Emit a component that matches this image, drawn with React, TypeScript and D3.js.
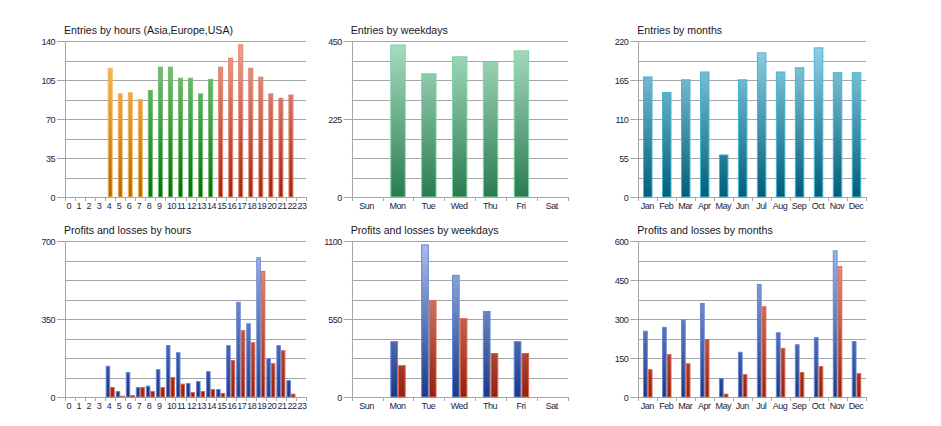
import React from "react";
import * as d3 from "d3";

// ---------- data ----------
const hourLabels = ["0", "1", "2", "3", "4", "5", "6", "7", "8", "9", "10", "11", "12", "13", "14", "15", "16", "17", "18", "19", "20", "21", "22", "23"];
const entriesByHour = [0, 0, 0, 0, 116, 93, 94, 88, 96, 117, 117, 107, 107, 93, 106, 117, 125, 137, 116, 108, 93, 89, 92, 0];
const hourSession = ["", "", "", "", "asia", "asia", "asia", "asia", "europe", "europe", "europe", "europe", "europe", "europe", "europe", "usa", "usa", "usa", "usa", "usa", "usa", "usa", "usa", ""];

const weekdayLabels = ["Sun", "Mon", "Tue", "Wed", "Thu", "Fri", "Sat"];
const entriesByWeekday = [0, 440, 357, 406, 389, 423, 0];

const monthLabels = ["Jan", "Feb", "Mar", "Apr", "May", "Jun", "Jul", "Aug", "Sep", "Oct", "Nov", "Dec"];
const entriesByMonth = [170, 148, 166, 177, 60, 166, 204, 177, 183, 211, 176, 176];

const profitsByHour = [0, 0, 0, 0, 140, 27, 112, 45, 51, 125, 233, 201, 63, 72, 116, 36, 233, 427, 331, 627, 175, 233, 76, 0];
const lossesByHour = [0, 0, 0, 0, 45, 6, 9, 45, 27, 45, 90, 60, 22, 27, 36, 18, 166, 300, 246, 566, 152, 210, 15, 0];

const profitsByWeekday = [0, 394, 1076, 861, 607, 394, 0];
const lossesByWeekday = [0, 225, 682, 556, 310, 310, 0];

const profitsByMonth = [255, 270, 298, 362, 73, 174, 435, 249, 203, 230, 564, 215];
const lossesByMonth = [107, 165, 130, 223, 13, 88, 349, 189, 96, 119, 503, 92];

// ---------- styles ----------
const palettes: Record<string, { top: string; bottom: string; stroke: string }> = {
  asia: { top: "#ffc86e", bottom: "#ad6800", stroke: "#f7b75a" },
  europe: { top: "#8ccf8c", bottom: "#0c690e", stroke: "#6cbf6c" },
  usa: { top: "#eca898", bottom: "#9c240e", stroke: "#e8806a" },
  weekday: { top: "#aadec4", bottom: "#2a7b50", stroke: "#7dd4a3" },
  month: { top: "#96d5e7", bottom: "#005e7a", stroke: "#45b5d5" },
  profit: { top: "#abc0ec", bottom: "#1b3886", stroke: "#6688d8" },
  loss: { top: "#eea494", bottom: "#94200e", stroke: "#e0654a" },
};

const TICK_FONT = "'Liberation Sans', 'DejaVu Sans', sans-serif";
const TITLE_FONT = "'Liberation Sans', 'DejaVu Sans', sans-serif";
const GRID = "#a6a6a6";
const TEXT = "#1c1c40";

type Series = { values: number[]; palette: (i: number) => string };

type PanelProps = {
  id: string;
  title: string;
  left: number;
  right: number;
  top: number;
  bottom: number;
  categories: string[];
  series: Series[];
  yMax: number;
  labelEvery: number;
  innerPadding: number;
  labelAlign: "start" | "middle";
};

function Panel(p: PanelProps) {
  const { id, title, left, right, top, bottom, categories, series, yMax, labelEvery, innerPadding, labelAlign } = p;
  const y = d3.scaleLinear().domain([0, yMax]).range([bottom, top]);
  const x = d3
    .scaleBand<string>()
    .domain(categories)
    .range([left, right])
    .paddingInner(innerPadding)
    .paddingOuter(innerPadding / 2);
  const step = x.step();
  const sub = d3
    .scaleBand<number>()
    .domain(d3.range(series.length))
    .range([0, x.bandwidth()]);
  const gridValues = d3.range(0, 9).map((i) => (yMax * i) / 8);
  const usedPalettes = Array.from(
    new Set(series.flatMap((s) => categories.map((_, i) => s.palette(i)).filter((k) => k)))
  );

  return (
    <g>
      <defs>
        {usedPalettes.map((k) => (
          <linearGradient key={k} id={`${id}-${k}`} gradientUnits="userSpaceOnUse" x1={0} x2={0} y1={top} y2={bottom}>
            <stop offset="0%" stopColor={palettes[k].top} />
            <stop offset="100%" stopColor={palettes[k].bottom} />
          </linearGradient>
        ))}
      </defs>
      <text x={left - 1} y={top - 7} fontFamily={TITLE_FONT} fontSize={10.6} fill="#161626">
        {title}
      </text>
      {gridValues.map((v, i) => {
        const yy = Math.round(y(v)) + 0.5;
        const labeled = i % labelEvery === 0;
        return (
          <g key={i}>
            <line x1={labeled ? left - 8 : left} x2={right} y1={yy} y2={yy} stroke={GRID} strokeWidth={1} />
            {labeled && (
              <text
                x={left - 10}
                y={yy}
                textAnchor="end"
                dominantBaseline="central"
                fontFamily={TICK_FONT}
                fontSize={9}
                letterSpacing={-0.5}
                fill={TEXT}
              >
                {d3.format("d")(v)}
              </text>
            )}
          </g>
        );
      })}
      <line x1={Math.round(left) + 0.5} x2={Math.round(left) + 0.5} y1={top} y2={bottom + 4} stroke={GRID} />
      {d3.range(0, categories.length + 1).map((i) => {
        const xx = Math.round(left + i * step) + 0.5;
        return <line key={i} x1={xx} x2={xx} y1={bottom} y2={bottom + 4} stroke={GRID} />;
      })}
      {categories.map((c, i) => {
        const bandStart = left + i * step;
        return (
          <text
            key={c}
            x={labelAlign === "start" ? bandStart + 1.5 : bandStart + step / 2 - 0.5}
            y={bottom + 12}
            textAnchor={labelAlign}
            fontFamily={TICK_FONT}
            fontSize={9}
            letterSpacing={-0.5}
            fill={TEXT}
          >
            {c}
          </text>
        );
      })}
      {series.map((s, si) =>
        categories.map((c, i) => {
          const v = s.values[i];
          const pal = s.palette(i);
          if (!v || !pal) return null;
          const bx = (x(c) as number) + (sub(si) as number);
          const bw = sub.bandwidth();
          const by = y(v);
          return (
            <rect
              key={`${si}-${i}`}
              x={bx + 0.5}
              y={by + 0.5}
              width={Math.max(bw - 1, 0.5)}
              height={Math.max(bottom - by - 0.5, 0)}
              fill={`url(#${id}-${pal})`}
              stroke={palettes[pal].stroke}
              strokeWidth={1}
            />
          );
        })
      )}
    </g>
  );
}

export default function App() {
  const row1 = { top: 41, bottom: 197 };
  const row2 = { top: 241, bottom: 397 };
  const col1 = { left: 65, right: 306 };
  const col2 = { left: 351.7, right: 567.7 };
  const col3 = { left: 638.3, right: 866 };
  return (
    <div style={{ position: "absolute", left: 0, top: 0 }}>
      <svg width={941} height={426} style={{ display: "block", background: "#ffffff" }}>
        <Panel
          id="p1"
          title="Entries by hours (Asia,Europe,USA)"
          {...row1}
          {...col1}
          categories={hourLabels}
          series={[{ values: entriesByHour, palette: (i) => hourSession[i] }]}
          yMax={140}
          labelEvery={2}
          innerPadding={0.5}
          labelAlign="start"
        />
        <Panel
          id="p2"
          title="Entries by weekdays"
          {...row1}
          {...col2}
          categories={weekdayLabels}
          series={[{ values: entriesByWeekday, palette: () => "weekday" }]}
          yMax={450}
          labelEvery={4}
          innerPadding={0.5}
          labelAlign="middle"
        />
        <Panel
          id="p3"
          title="Entries by months"
          {...row1}
          {...col3}
          categories={monthLabels}
          series={[{ values: entriesByMonth, palette: () => "month" }]}
          yMax={220}
          labelEvery={2}
          innerPadding={0.5}
          labelAlign="middle"
        />
        <Panel
          id="p4"
          title="Profits and losses by hours"
          {...row2}
          {...col1}
          categories={hourLabels}
          series={[
            { values: profitsByHour, palette: () => "profit" },
            { values: lossesByHour, palette: () => "loss" },
          ]}
          yMax={700}
          labelEvery={4}
          innerPadding={0.1}
          labelAlign="start"
        />
        <Panel
          id="p5"
          title="Profits and losses by weekdays"
          {...row2}
          {...col2}
          categories={weekdayLabels}
          series={[
            { values: profitsByWeekday, palette: () => "profit" },
            { values: lossesByWeekday, palette: () => "loss" },
          ]}
          yMax={1100}
          labelEvery={4}
          innerPadding={0.5}
          labelAlign="middle"
        />
        <Panel
          id="p6"
          title="Profits and losses by months"
          {...row2}
          {...col3}
          categories={monthLabels}
          series={[
            { values: profitsByMonth, palette: () => "profit" },
            { values: lossesByMonth, palette: () => "loss" },
          ]}
          yMax={600}
          labelEvery={2}
          innerPadding={0.5}
          labelAlign="middle"
        />
      </svg>
    </div>
  );
}
